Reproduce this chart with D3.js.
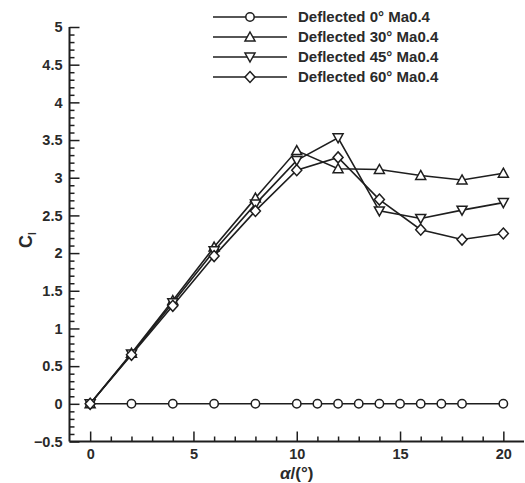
<!DOCTYPE html>
<html>
<head>
<meta charset="utf-8">
<script src="https://cdn.jsdelivr.net/npm/d3@7"></script>
<style>
  body { margin: 0; background: #fff; }
  text { font-family: "Liberation Sans", Arial, sans-serif; font-weight: bold; fill: #2a2a2a; }
</style>
</head>
<body>
<script>
(function (d3) {
  "use strict";

  /***** Data *****/
  var alpha0 = [0, 2, 4, 6, 8, 10, 11, 12, 13, 14, 15, 16, 17, 18, 20];
  var cl0 = [0, 0, 0, 0, 0, 0, 0, 0, 0, 0, 0, 0, 0, 0, 0];
  var alpha = [0, 2, 4, 6, 8, 10, 12, 14, 16, 18, 20];
  var cl30 = [0, 0.67, 1.37, 2.08, 2.73, 3.36, 3.12, 3.11, 3.03, 2.97, 3.06];
  var cl45 = [0, 0.66, 1.34, 2.03, 2.65, 3.23, 3.53, 2.56, 2.46, 2.57, 2.67];
  var cl60 = [0, 0.65, 1.30, 1.96, 2.56, 3.10, 3.27, 2.71, 2.31, 2.18, 2.26];
  var labels = ["Deflected 0° Ma0.4", "Deflected 30° Ma0.4", "Deflected 45° Ma0.4", "Deflected 60° Ma0.4"];
  var xTicks = [0, 5, 10, 15, 20];
  var yTicks = [-0.5, 0, 0.5, 1, 1.5, 2, 2.5, 3, 3.5, 4, 4.5, 5];

  var series = [
    { name: labels[0], xs: alpha0, ys: cl0, sym: "circle" },
    { name: labels[1], xs: alpha, ys: cl30, sym: "up" },
    { name: labels[2], xs: alpha, ys: cl45, sym: "down" },
    { name: labels[3], xs: alpha, ys: cl60, sym: "diamond" }
  ];

  /***** Configuration *****/
  var W = 525, H = 483;
  var x = d3.scaleLinear().domain([-1, 21]).range([69.5, 524]);
  var y = d3.scaleLinear().domain([-0.5, 5]).range([441.5, 27]);
  var ink = "#1e1e1e";

  var svg = d3.select("body").append("svg")
    .attr("width", W).attr("height", H);

  /***** Axes *****/
  var xMinor = d3.range(0, 21, 1).filter(function (v) { return v % 5 !== 0; });
  var yMinor = d3.range(-5, 51, 1).map(function (v) { return v / 10; })
    .filter(function (v) { return Math.abs(v * 2 - Math.round(v * 2)) > 1e-6; });

  var gx = svg.append("g").attr("transform", "translate(0," + y(-0.5) + ")");
  gx.call(d3.axisBottom(x).tickValues(xTicks).tickSize(-10).tickPadding(7).tickFormat(d3.format("d")));
  gx.append("g").call(d3.axisBottom(x).tickValues(xMinor).tickSize(-5).tickFormat(""));
  gx.selectAll(".domain").remove();
  gx.append("line").attr("x1", x(-1)).attr("x2", x(21)).attr("stroke", ink).attr("stroke-width", 2);

  var gy = svg.append("g").attr("transform", "translate(" + x(-1) + ",0)");
  gy.call(d3.axisLeft(y).tickValues(yTicks).tickSize(-10).tickPadding(7).tickFormat(d3.format("")));
  gy.append("g").call(d3.axisLeft(y).tickValues(yMinor).tickSize(-5).tickFormat(""));
  gy.selectAll(".domain").remove();
  gy.append("line").attr("y1", y(-0.5)).attr("y2", y(5)).attr("stroke", ink).attr("stroke-width", 2);

  svg.selectAll(".tick line").attr("stroke", ink).attr("stroke-width", 1.5);
  svg.selectAll(".tick text").attr("font-size", 14.5).attr("fill", "#333");

  /***** Axis titles *****/
  var xt = svg.append("text").attr("x", x(10)).attr("y", 479).attr("text-anchor", "middle").attr("font-size", 17);
  xt.append("tspan").attr("font-style", "italic").text("α");
  xt.append("tspan").text("/(°)");

  var yt = svg.append("text").attr("transform", "translate(32,240) rotate(-90)")
    .attr("text-anchor", "middle").attr("font-size", 18);
  yt.append("tspan").text("C");
  yt.append("tspan").attr("font-size", 10).attr("dy", 4).text("l");

  /***** Markers *****/
  function marker(g, sym, cx, cy) {
    var s;
    if (sym === "circle") {
      s = g.append("circle").attr("cx", cx).attr("cy", cy).attr("r", 4.2);
    } else {
      var pts;
      if (sym === "up") pts = [[0, -5], [5, 4], [-5, 4]];
      else if (sym === "down") pts = [[0, 5], [5, -4], [-5, -4]];
      else pts = [[0, -5.5], [5, 0], [0, 5.5], [-5, 0]];
      s = g.append("path").attr("d", "M" + pts.map(function (p) {
        return (cx + p[0]) + "," + (cy + p[1]);
      }).join("L") + "Z");
    }
    s.attr("fill", "#fff").attr("stroke", ink).attr("stroke-width", 1.5);
  }

  var line = d3.line().x(function (d) { return x(d[0]); }).y(function (d) { return y(d[1]); });
  var plot = svg.append("g");
  series.forEach(function (s) {
    var pts = s.xs.map(function (v, i) { return [v, s.ys[i]]; });
    plot.append("path").datum(pts).attr("d", line)
      .attr("fill", "none").attr("stroke", ink).attr("stroke-width", 1.6);
  });
  series.forEach(function (s) {
    var g = plot.append("g");
    s.xs.forEach(function (v, i) { marker(g, s.sym, x(v), y(s.ys[i])); });
  });

  /***** Legend *****/
  var leg = svg.append("g");
  series.forEach(function (s, i) {
    var ly = 17 + i * 20;
    leg.append("line").attr("x1", 213).attr("x2", 287).attr("y1", ly).attr("y2", ly)
      .attr("stroke", ink).attr("stroke-width", 1.6);
    marker(leg, s.sym, 250, ly);
    leg.append("text").attr("x", 298).attr("y", ly + 5).attr("font-size", 15).text(s.name);
  });

})(d3);
</script>
</body>
</html>
